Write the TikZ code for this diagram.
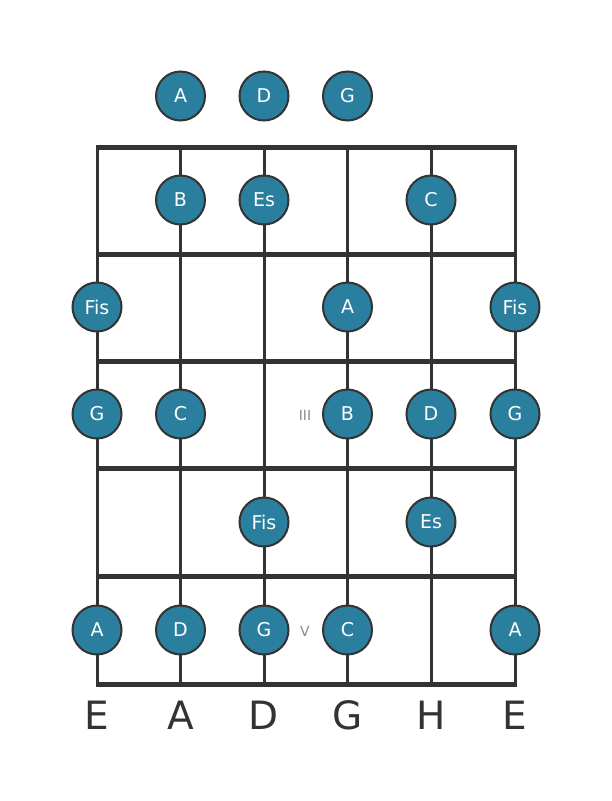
\documentclass[tikz,border=0pt]{standalone}
\usepackage{fontspec}
\setmainfont{DejaVu Sans}
\definecolor{line}{HTML}{333333}
\definecolor{dot}{HTML}{2A7F9E}
\definecolor{mark}{HTML}{8A8A8A}
\tikzset{
  note/.style={circle, draw=line, line width=2pt, fill=dot, minimum size=49pt, inner sep=0pt, text=white, font=\fontsize{19}{19}\selectfont},
  fretline/.style={line, line width=5pt},
  stringline/.style={line, line width=3pt},
  strlabel/.style={text=line, font=\fontsize{39}{39}\selectfont, inner sep=0pt},
  posmark/.style={text=mark, font=\fontsize{14}{14}\selectfont, inner sep=0pt}
}
\begin{document}
\begin{tikzpicture}[x=1pt,y=-1pt]
\useasboundingbox[fill=white] (0,0) rectangle (611,801);
% strings
\foreach \x in {97,180.5,264,347.5,431,515} {
  \draw[stringline] (\x,147) -- (\x,684);
}
% frets
\foreach \y in {147,254.5,361,468,576.5,684} {
  \draw[fretline] (95.5,\y) -- (516.5,\y);
}
% open notes
\node[note] (o2) at (180.5,96) {A};
\node[note] (o3) at (264,96) {D};
\node[note] (o4) at (347.5,96) {G};
% fret 1
\node[note] (f1s2) at (180.5,200) {B};
\node[note] (f1s3) at (264,200) {Es};
\node[note] (f1s5) at (431,200) {C};
% fret 2
\node[note] (f2s1) at (97,307) {Fis};
\node[note] (f2s4) at (347.5,307) {A};
\node[note] (f2s6) at (515,307) {Fis};
% fret 3
\node[note] (f3s1) at (97,414) {G};
\node[note] (f3s2) at (180.5,414) {C};
\node[note] (f3s4) at (347.5,414) {B};
\node[note] (f3s5) at (431,414) {D};
\node[note] (f3s6) at (515,414) {G};
\node[posmark] (m3) at (305,415) {III};
% fret 4
\node[note] (f4s3) at (264,522) {Fis};
\node[note] (f4s5) at (431,522) {Es};
% fret 5
\node[note] (f5s1) at (97,630) {A};
\node[note] (f5s2) at (180.5,630) {D};
\node[note] (f5s3) at (264,630) {G};
\node[note] (f5s4) at (347.5,630) {C};
\node[note] (f5s6) at (515,630) {A};
\node[posmark] (m5) at (305,631) {V};
% string names
\foreach \x/\n/\t in {97/s1/E,180.5/s2/A,264/s3/D,347.5/s4/G,431/s5/H,515/s6/E} {
  \node[strlabel, anchor=base] (\n) at (\x,729) {\t};
}
\end{tikzpicture}
\end{document}
